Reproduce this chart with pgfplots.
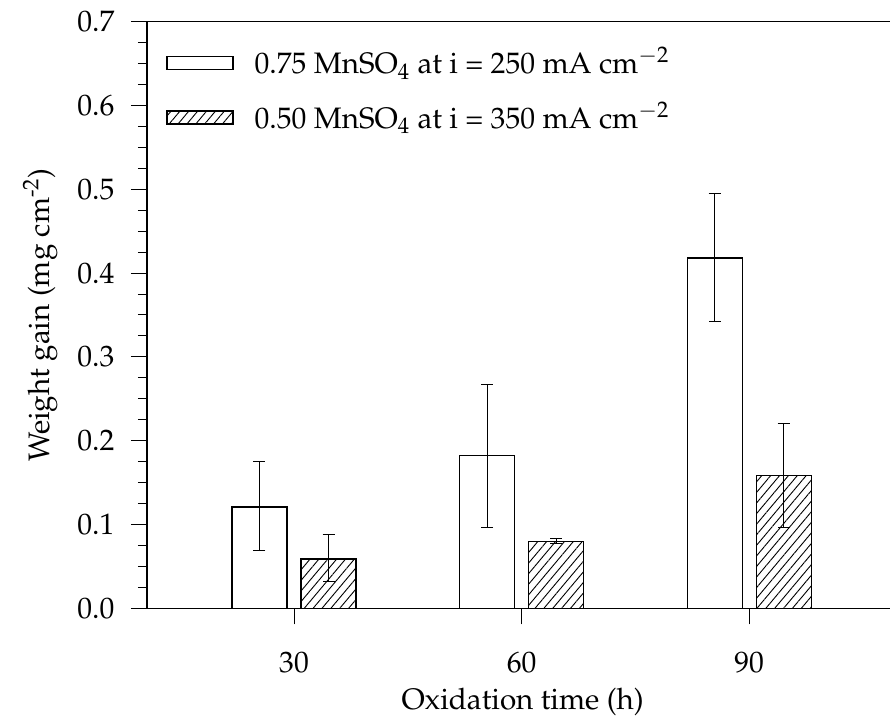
\documentclass[border=0pt]{standalone}
\usepackage[T1]{fontenc}
\usepackage{mathpazo}
\usepackage{pgfplots}
\pgfplotsset{compat=1.18}
\usetikzlibrary{patterns.meta}
\pgfplotsset{myrect/.style={legend image code/.code={\draw[##1] (0pt,-3.25pt) rectangle (33pt,3.25pt);}}}
\begin{document}
\fontsize{14.8}{17.5}\selectfont
\begin{tikzpicture}
\begin{axis}[name=ax, scale only axis, width=372pt, height=293.5pt,
  xmin=10.62, xmax=108.7, ymin=0, ymax=0.7,
  xtick={30,60,90}, ytick={0,0.1,0.2,0.3,0.4,0.5,0.6,0.7}, minor y tick num=3,
  yticklabel style={/pgf/number format/fixed, /pgf/number format/fixed zerofill, /pgf/number format/precision=1},
  tick align=outside, tick pos=left,
  major tick length=8pt, minor tick length=4.5pt,
  axis line style={line width=0.6pt},
  every tick/.style={line width=0.5pt, black},
  xticklabel shift=9pt, yticklabel shift=3.2pt,
  every axis y label/.style={at={(rel axis cs:-0.1438,0.5)}, rotate=90, anchor=center},
  every axis x label/.style={at={(rel axis cs:0.505,-0.159)}, anchor=center},
  ylabel={Weight gain (mg cm\textsuperscript{-2})},
  xlabel={Oxidation time (h)},
  legend style={draw=none, fill=none, at={(rel axis cs:0.0256,0.963)}, anchor=north west,
    inner sep=0pt, row sep=8pt, cells={anchor=west},
    /tikz/every odd column/.append style={column sep=8.5pt}},
  legend cell align=left,
]
\addplot[ybar, bar width=7.25, bar shift=0, draw=black, fill=white, line width=0.6pt, myrect,
  error bars/.cd, y dir=both, y explicit,
  error bar style={line width=0.5pt, black},
  error mark options={rotate=90, mark size=3pt, line width=0.5pt, black}]
coordinates {
 (25.45,0.121) += (0,0.054) -= (0,0.052)
 (55.45,0.182) += (0,0.085) -= (0,0.085)
 (85.45,0.418) += (0,0.077) -= (0,0.076)
};
\addlegendentry{0.75 MnSO$_4$ at i = 250 mA cm$^{-2}$}
\addplot[ybar, bar width=7.25, bar shift=0, draw=black, line width=0.6pt, myrect,
  pattern={Lines[angle=50, distance=3.4pt, line width=0.45pt]},
  error bars/.cd, y dir=both, y explicit,
  error bar style={line width=0.5pt, black},
  error mark options={rotate=90, mark size=3pt, line width=0.5pt, black}]
coordinates {
 (34.55,0.059) += (0,0.029) -= (0,0.027)
 (64.55,0.080) += (0,0.003) -= (0,0.002)
 (94.55,0.159) += (0,0.062) -= (0,0.062)
};
\addlegendentry{0.50 MnSO$_4$ at i = 350 mA cm$^{-2}$}
\end{axis}
\pgfresetboundingbox
\path ([xshift=-73.5pt,yshift=-54.25pt]ax.south west) rectangle ([xshift=-0.5pt,yshift=10.75pt]ax.north east);
\end{tikzpicture}
\end{document}
